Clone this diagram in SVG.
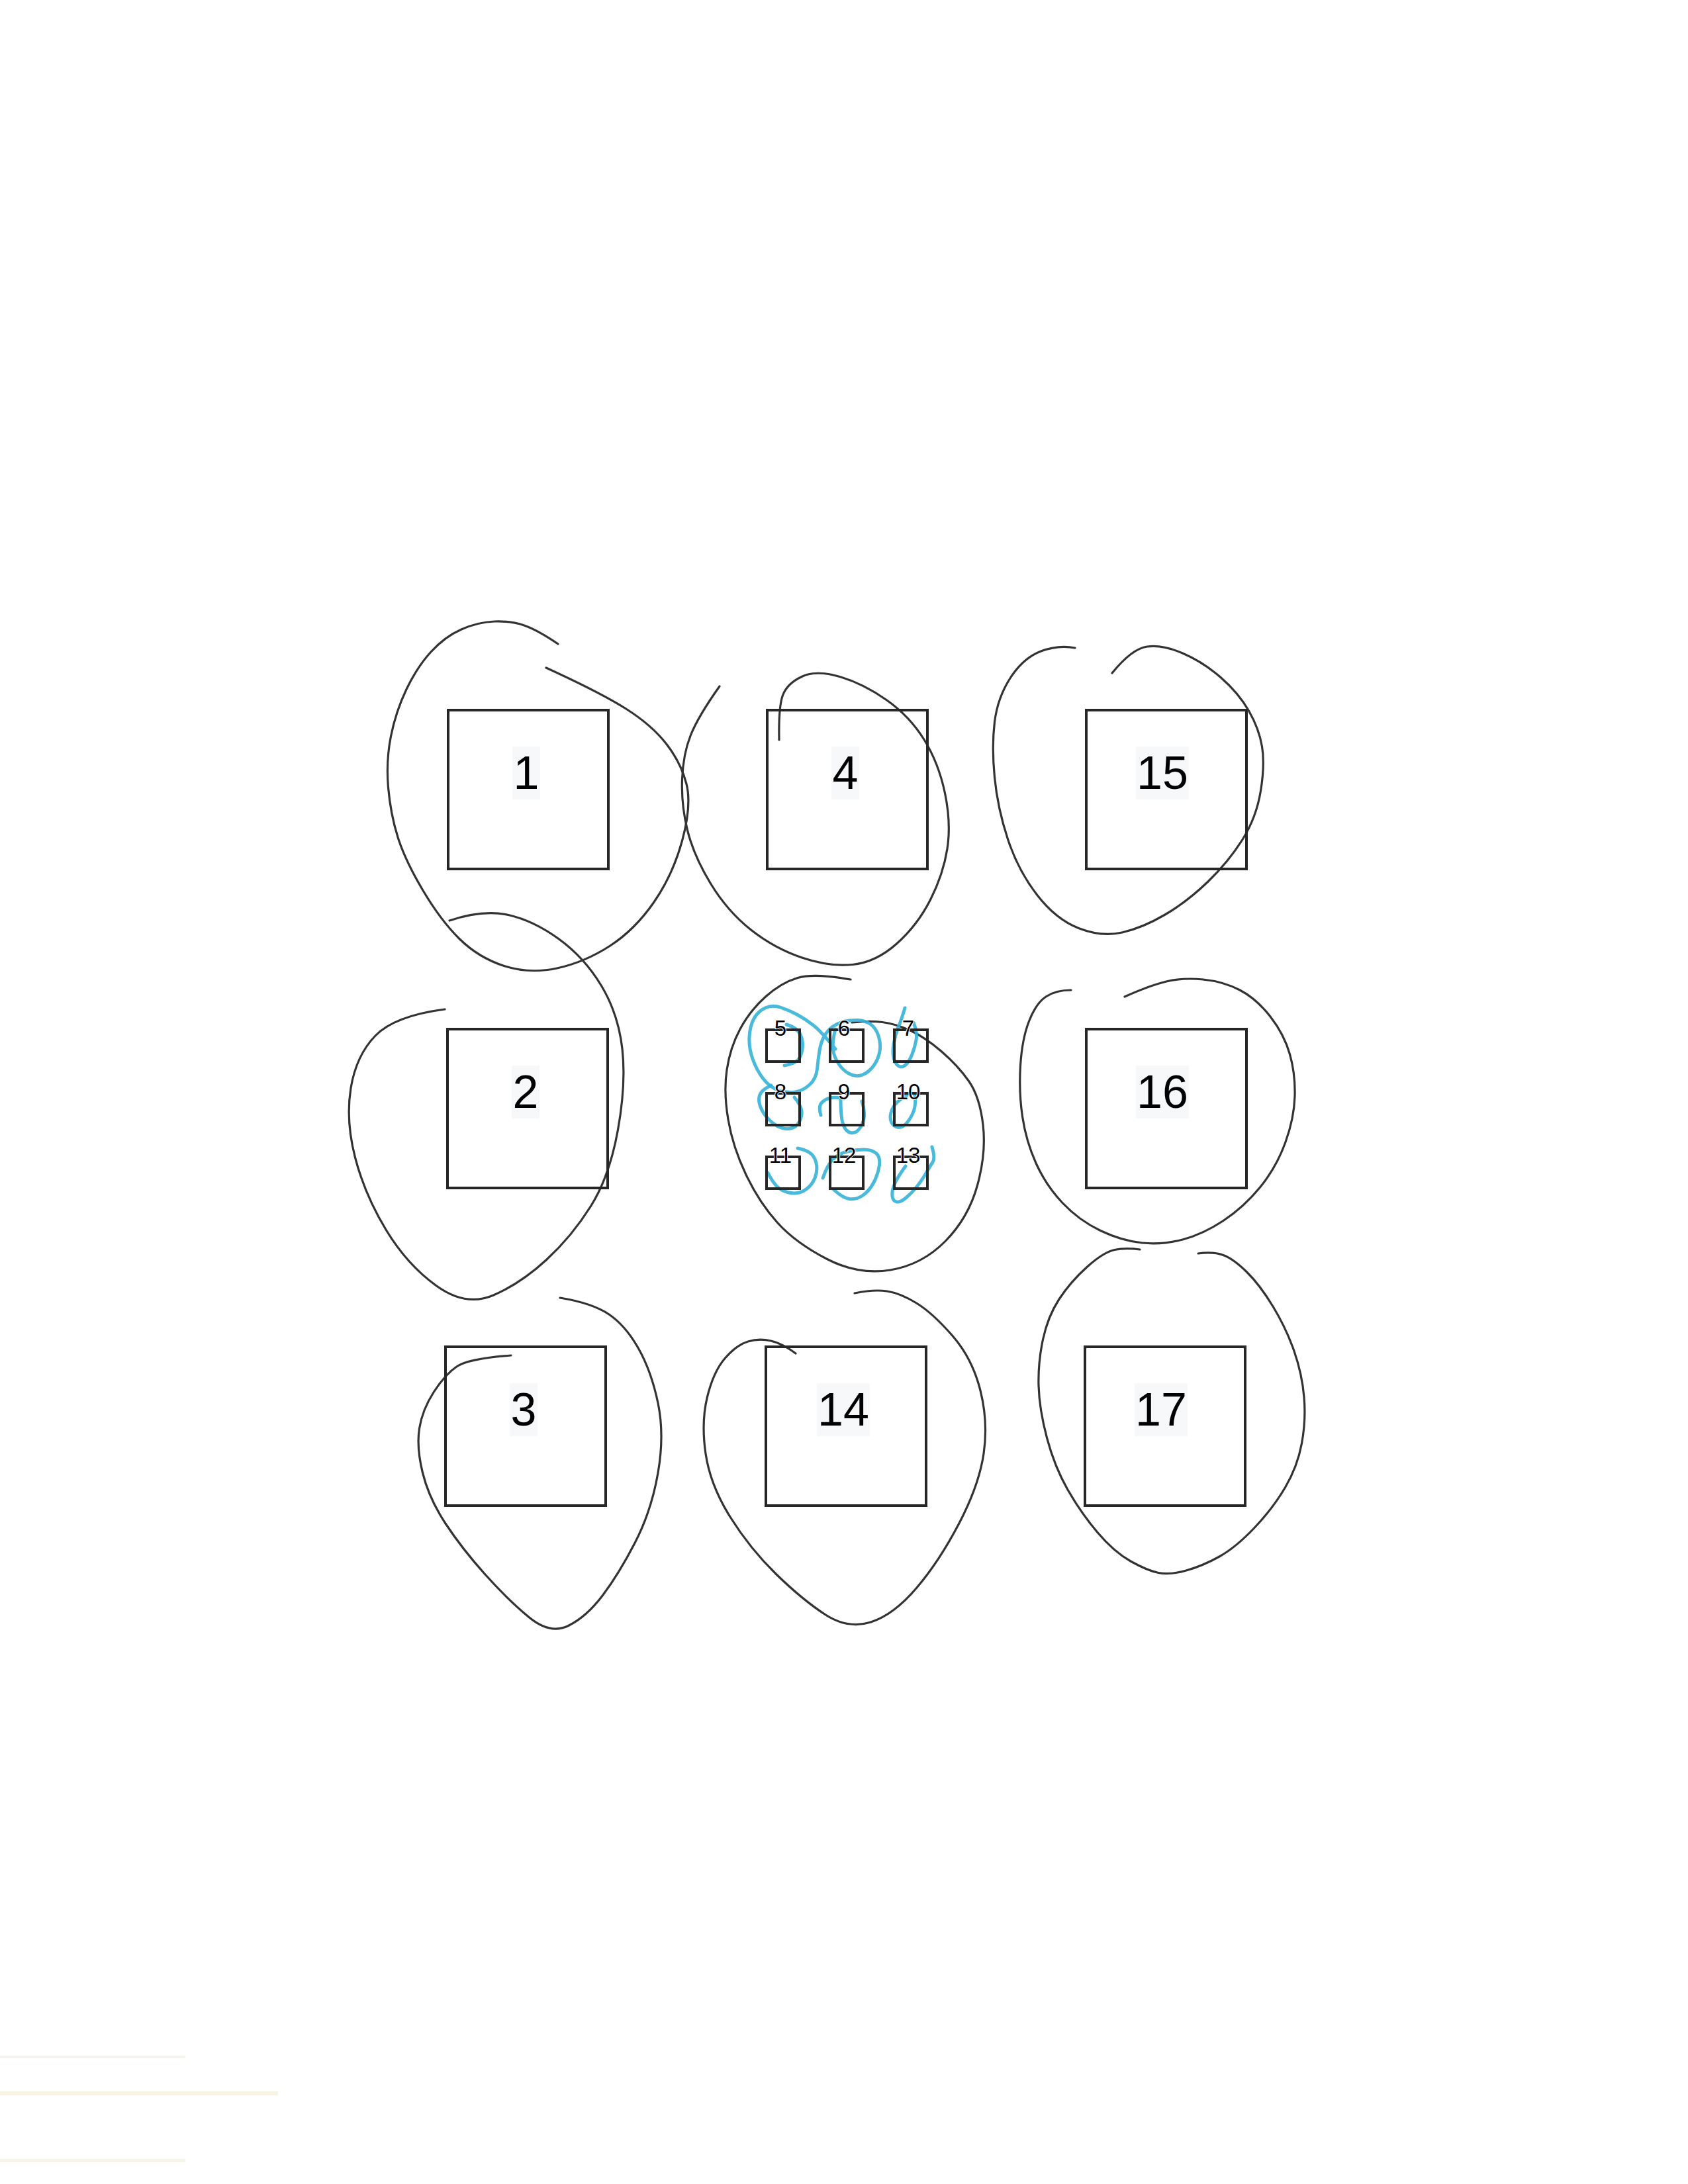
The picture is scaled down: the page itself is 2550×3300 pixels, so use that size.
<svg xmlns="http://www.w3.org/2000/svg" width="2550" height="3300" viewBox="0 0 2550 3300">
<style>
.box{fill:none;stroke:#262626;stroke-width:4}
.sbox{fill:none;stroke:#262626;stroke-width:4}
.loop{fill:none;stroke:#333;stroke-width:3.2;stroke-linecap:round;stroke-linejoin:round}
.cyan{fill:none;stroke:#35b2d8;stroke-width:5;stroke-linecap:round;stroke-linejoin:round;opacity:0.9}
.big{font-family:"Liberation Sans",Arial,sans-serif;font-size:70px;fill:#000;text-anchor:middle}
.small{font-family:"Liberation Sans",Arial,sans-serif;font-size:33px;fill:#000;text-anchor:middle;stroke:#fff;stroke-width:2;paint-order:stroke}
.lbg{fill:#f7f8fa}
</style>
<rect width="2550" height="3300" fill="#fff"/>
<g id="scan-marks" opacity="0.5">
<rect x="0" y="3106" width="280" height="4" fill="#efe9d6"/>
<rect x="0" y="3160" width="420" height="6" fill="#f3e9c8"/>
<rect x="0" y="3262" width="280" height="5" fill="#efe8d2"/>
</g>
<g id="connectors"></g>

<g id="node-1">
<path class="loop" d="M843,973 Q812,952 792,945 Q772,938 747,939 Q722,940 697,951 Q672,962 651,985 Q630,1008 614,1041.5 Q598,1075 590.5,1112.5 Q583,1150 586.5,1190 Q590,1230 601,1265 Q612,1300 639,1345.5 Q666,1391 694.5,1419 Q723,1447 761.5,1459.5 Q800,1472 841.5,1463 Q883,1454 921,1429.5 Q959,1405 988,1363 Q1017,1321 1031,1268.5 Q1045,1216 1037,1184.5 Q1029,1153 1007,1124.5 Q985,1096 946.5,1071.5 Q908,1047 825,1009"/>
<rect class="box" x="677" y="1073" width="242" height="240"/>
<rect class="lbg" x="774" y="1128" width="42" height="80"/>
<text class="big" x="795" y="1192">1</text>
</g>

<g id="node-4">
<path class="loop" d="M1087,1037 Q1055,1082 1043.5,1110.5 Q1032,1139 1030.5,1177.5 Q1029,1216 1038.5,1254.5 Q1048,1293 1073.5,1335 Q1099,1377 1134.5,1405 Q1170,1433 1211.5,1447 Q1253,1461 1288,1457.5 Q1323,1454 1354.5,1426 Q1386,1398 1405.5,1359.5 Q1425,1321 1431,1282.5 Q1437,1244 1427.5,1198.5 Q1418,1153 1396,1117.5 Q1374,1082 1339,1057.5 Q1304,1033 1268.5,1022.5 Q1233,1012 1211,1022.5 Q1189,1033 1182.5,1050.5 Q1176,1068 1177,1118"/>
<rect class="box" x="1159" y="1073" width="242" height="240"/>
<rect class="lbg" x="1256" y="1128" width="42" height="80"/>
<text class="big" x="1277" y="1192">4</text>
</g>

<g id="node-15">
<path class="loop" d="M1624,979 Q1599,974 1572.5,984 Q1546,994 1526.5,1024 Q1507,1054 1502.5,1091 Q1498,1128 1502.5,1174.5 Q1507,1221 1522.5,1268 Q1538,1315 1566.5,1352 Q1595,1389 1629.5,1402.5 Q1664,1416 1695,1409 Q1726,1402 1760,1382 Q1794,1362 1825,1332 Q1856,1302 1877,1268.5 Q1898,1235 1904.5,1195 Q1911,1155 1906.5,1128 Q1902,1101 1886.5,1074 Q1871,1047 1844,1023.5 Q1817,1000 1786.5,987 Q1756,974 1733,977 Q1710,980 1680,1017"/>
<rect class="box" x="1641" y="1073" width="242" height="240"/>
<rect class="lbg" x="1716" y="1128" width="80" height="80"/>
<text class="big" x="1756" y="1192">15</text>
</g>

<g id="node-2">
<path class="loop" d="M672,1525 Q596,1535 567,1565 Q538,1595 530,1644 Q522,1693 536.5,1749 Q551,1805 583,1858 Q615,1911 659.5,1943 Q704,1975 745.5,1957 Q787,1939 825.5,1903.5 Q864,1868 892.5,1822.5 Q921,1777 933.5,1707 Q946,1637 940,1584.5 Q934,1532 908.5,1489.5 Q883,1447 844.5,1419 Q806,1391 768,1382.5 Q730,1374 679,1391"/>
<rect class="box" x="676" y="1555" width="242" height="240"/>
<rect class="lbg" x="773" y="1610" width="42" height="80"/>
<text class="big" x="794" y="1674">2</text>
</g>

<g id="node-group-5-13">
<path class="loop" d="M1285,1480 Q1230,1470 1205,1477.5 Q1180,1485 1156.5,1506 Q1133,1527 1118,1555 Q1103,1583 1098,1616.5 Q1093,1650 1100,1691.5 Q1107,1733 1127,1775 Q1147,1817 1174.5,1847.5 Q1202,1878 1249.5,1902.5 Q1297,1927 1345,1919 Q1393,1911 1428,1875.5 Q1463,1840 1476.5,1791 Q1490,1742 1485,1699.5 Q1480,1657 1463.5,1633.5 Q1447,1610 1422,1588.5 Q1397,1567 1375,1557 Q1353,1547 1333,1544.5 Q1313,1542 1287,1545"/>
<g id="cyan-loops">
<path class="cyan" d="M1262,1585 Q1240,1558 1228.5,1549 Q1217,1540 1205,1533.5 Q1193,1527 1180,1522.5 Q1167,1518 1156,1523 Q1145,1528 1139,1539 Q1133,1550 1132,1566.5 Q1131,1583 1137,1600 Q1143,1617 1153,1630 Q1163,1643 1176.5,1647.5 Q1190,1652 1201.5,1650 Q1213,1648 1223,1639 Q1233,1630 1234.5,1615 Q1236,1600 1238,1587.5 Q1240,1575 1245,1566 Q1250,1557 1257.5,1551.5 Q1265,1546 1275,1543.5 Q1285,1541 1296,1541.5 Q1307,1542 1315,1547.5 Q1323,1553 1327,1565 Q1331,1577 1329,1588.5 Q1327,1600 1320,1610 Q1313,1620 1303,1624 Q1293,1628 1283,1622.5 Q1273,1617 1266.5,1607 Q1260,1597 1258.5,1586 Q1257,1575 1262,1555"/>
<path class="cyan" d="M1188,1548 Q1205,1553 1209.5,1564 Q1214,1575 1212,1586 Q1210,1597 1205,1602 Q1200,1607 1185,1610"/>
<path class="cyan" d="M1367,1523 Q1362,1540 1357,1552.5 Q1352,1565 1350,1577.5 Q1348,1590 1350,1598.5 Q1352,1607 1357,1610.5 Q1362,1614 1367.5,1609.5 Q1373,1605 1377.5,1594 Q1382,1583 1384,1571.5 Q1386,1560 1380,1545"/>
<path class="cyan" d="M1165,1640 Q1150,1647 1147.5,1655 Q1145,1663 1149,1673 Q1153,1683 1161.5,1691.5 Q1170,1700 1178.5,1703.5 Q1187,1707 1195,1705 Q1203,1703 1207.5,1695 Q1212,1687 1211,1678.5 Q1210,1670 1200,1658"/>
<path class="cyan" d="M1240,1685 Q1236,1672 1241,1666.5 Q1246,1661 1254,1659 Q1262,1657 1275,1660"/>
<path class="cyan" d="M1270,1660 Q1270,1690 1274,1700 Q1278,1710 1285,1711.5 Q1292,1713 1297.5,1706.5 Q1303,1700 1305,1690 Q1307,1680 1302,1664"/>
<path class="cyan" d="M1370,1655 Q1352,1665 1347.5,1676.5 Q1343,1688 1346.5,1695.5 Q1350,1703 1357,1703.5 Q1364,1704 1370.5,1696 Q1377,1688 1380.5,1678 Q1384,1668 1382,1655"/>
<path class="cyan" d="M1160,1772 Q1170,1792 1180,1797.5 Q1190,1803 1200,1803 Q1210,1803 1218.5,1796.5 Q1227,1790 1231,1780 Q1235,1770 1233.5,1760 Q1232,1750 1226,1744 Q1220,1738 1205,1735"/>
<path class="cyan" d="M1243,1780 Q1250,1760 1258.5,1751.5 Q1267,1743 1280,1740 Q1293,1737 1305,1737 Q1317,1737 1323.5,1742.5 Q1330,1748 1328.5,1760.5 Q1327,1773 1320,1786.5 Q1313,1800 1303,1806.5 Q1293,1813 1283,1811.5 Q1273,1810 1260,1798"/>
<path class="cyan" d="M1408,1733 Q1413,1750 1409,1756 Q1405,1762 1399,1772.5 Q1393,1783 1385,1793 Q1377,1803 1368.5,1810 Q1360,1817 1354.5,1816 Q1349,1815 1348,1807.5 Q1347,1800 1351,1790 Q1355,1780 1368,1762"/>
</g>
<g id="node-5"><rect class="sbox" x="1158" y="1556" width="50" height="48"/><text class="small" x="1179" y="1565">5</text></g>
<g id="node-6"><rect class="sbox" x="1254" y="1556" width="50" height="48"/><text class="small" x="1275" y="1565">6</text></g>
<g id="node-7"><rect class="sbox" x="1351" y="1556" width="50" height="48"/><text class="small" x="1372" y="1565">7</text></g>
<g id="node-8"><rect class="sbox" x="1158" y="1652" width="50" height="48"/><text class="small" x="1179" y="1661">8</text></g>
<g id="node-9"><rect class="sbox" x="1254" y="1652" width="50" height="48"/><text class="small" x="1275" y="1661">9</text></g>
<g id="node-10"><rect class="sbox" x="1351" y="1652" width="50" height="48"/><text class="small" x="1372" y="1661">10</text></g>
<g id="node-11"><rect class="sbox" x="1158" y="1748" width="50" height="48"/><text class="small" x="1179" y="1757">11</text></g>
<g id="node-12"><rect class="sbox" x="1254" y="1748" width="50" height="48"/><text class="small" x="1275" y="1757">12</text></g>
<g id="node-13"><rect class="sbox" x="1351" y="1748" width="50" height="48"/><text class="small" x="1372" y="1757">13</text></g>
</g>

<g id="node-16">
<path class="loop" d="M1618,1496 Q1595,1496 1580,1506 Q1565,1516 1554.5,1543 Q1544,1570 1541.5,1610 Q1539,1650 1544.5,1687 Q1550,1724 1565,1757.5 Q1580,1791 1605,1817.5 Q1630,1844 1662.5,1859.5 Q1695,1875 1725.5,1878 Q1756,1881 1786.5,1873 Q1817,1865 1848,1844.5 Q1879,1824 1903.5,1794 Q1928,1764 1941.5,1727 Q1955,1690 1956,1656.5 Q1957,1623 1948.5,1593 Q1940,1563 1919,1536 Q1898,1509 1873,1496 Q1848,1483 1817.5,1480 Q1787,1477 1762,1483 Q1737,1489 1699,1506"/>
<rect class="box" x="1641" y="1555" width="242" height="240"/>
<rect class="lbg" x="1716" y="1610" width="80" height="80"/>
<text class="big" x="1756" y="1674">16</text>
</g>

<g id="node-3">
<path class="loop" d="M772,2048 Q708,2053 690.5,2064.5 Q673,2076 655.5,2103 Q638,2130 633.5,2158.5 Q629,2187 638.5,2225.5 Q648,2264 673,2302 Q698,2340 732.5,2378.5 Q767,2417 799,2443.5 Q831,2470 858.5,2456.5 Q886,2443 910.5,2410.5 Q935,2378 959.5,2330.5 Q984,2283 994,2225.5 Q1004,2168 994,2120 Q984,2072 964.5,2037.5 Q945,2003 920,1986 Q895,1969 846,1961"/>
<rect class="box" x="673" y="2035" width="242" height="240"/>
<rect class="lbg" x="770" y="2090" width="42" height="80"/>
<text class="big" x="791" y="2154">3</text>
</g>

<g id="node-14">
<path class="loop" d="M1202,2045 Q1182,2030 1164.5,2026 Q1147,2022 1130,2027 Q1113,2032 1095.5,2052 Q1078,2072 1068.5,2110.5 Q1059,2149 1066,2196.5 Q1073,2244 1103,2292 Q1133,2340 1172.5,2378.5 Q1212,2417 1246.5,2439.5 Q1281,2462 1315.5,2451 Q1350,2440 1384.5,2399.5 Q1419,2359 1449,2301.5 Q1479,2244 1486,2196.5 Q1493,2149 1481,2101 Q1469,2053 1439,2018.5 Q1409,1984 1384.5,1969 Q1360,1954 1340,1951 Q1320,1948 1291,1954"/>
<rect class="box" x="1157" y="2035" width="242" height="240"/>
<rect class="lbg" x="1234" y="2090" width="80" height="80"/>
<text class="big" x="1274" y="2154">14</text>
</g>

<g id="node-17">
<path class="loop" d="M1722,1888 Q1700,1885 1683.5,1888.5 Q1667,1892 1642,1914.5 Q1617,1937 1600,1963 Q1583,1989 1575.5,2024 Q1568,2059 1569,2094 Q1570,2129 1581.5,2172.5 Q1593,2216 1613,2251 Q1633,2286 1658,2315.5 Q1683,2345 1708,2359 Q1733,2373 1750,2376.5 Q1767,2380 1792,2373 Q1817,2366 1842,2352 Q1867,2338 1895,2308.5 Q1923,2279 1941.5,2247.5 Q1960,2216 1966.5,2181 Q1973,2146 1970,2111 Q1967,2076 1955,2041.5 Q1943,2007 1923,1974 Q1903,1941 1883,1921.5 Q1863,1902 1848,1896.5 Q1833,1891 1810,1894"/>
<rect class="box" x="1639" y="2035" width="242" height="240"/>
<rect class="lbg" x="1714" y="2090" width="80" height="80"/>
<text class="big" x="1754" y="2154">17</text>
</g>
</svg>
